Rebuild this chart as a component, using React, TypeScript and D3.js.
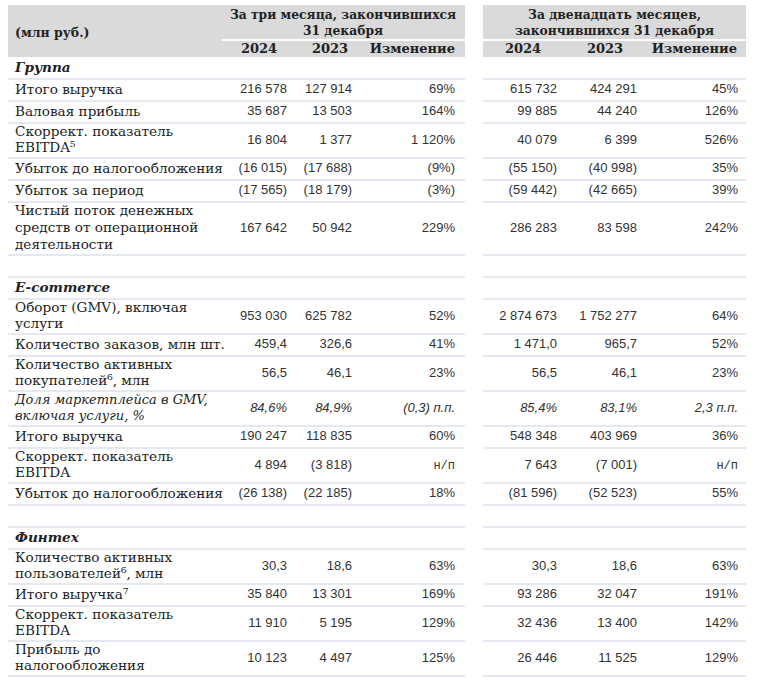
import React from "react";
import * as d3 from "d3";

// ---------- DATA ----------
const rowLabels: string[] = [
  "Группа",
  "Итого выручка",
  "Валовая прибыль",
  "Скоррект. показатель|EBITDA⁵",
  "Убыток до налогообложения",
  "Убыток за период",
  "Чистый поток денежных|средств от операционной|деятельности",
  "",
  "E-commerce",
  "Оборот (GMV), включая|услуги",
  "Количество заказов, млн шт.",
  "Количество активных|покупателей⁶, млн",
  "Доля маркетплейса в GMV,|включая услуги, %",
  "Итого выручка",
  "Скоррект. показатель|EBITDA",
  "Убыток до налогообложения",
  "",
  "Финтех",
  "Количество активных|пользователей⁶, млн",
  "Итого выручка⁷",
  "Скоррект. показатель|EBITDA",
  "Прибыль до|налогообложения",
];

// row kind: s = section heading, n = normal, i = italic, b = blank
const rowKinds: string[] = [
  "s", "n", "n", "n", "n", "n", "n", "b",
  "s", "n", "n", "n", "i", "n", "n", "n", "b",
  "s", "n", "n", "n", "n",
];

const q4_2024: string[] = [
  "", "216 578", "35 687", "16 804", "(16 015)", "(17 565)", "167 642", "",
  "", "953 030", "459,4", "56,5", "84,6%", "190 247", "4 894", "(26 138)", "",
  "", "30,3", "35 840", "11 910", "10 123",
];
const q4_2023: string[] = [
  "", "127 914", "13 503", "1 377", "(17 688)", "(18 179)", "50 942", "",
  "", "625 782", "326,6", "46,1", "84,9%", "118 835", "(3 818)", "(22 185)", "",
  "", "18,6", "13 301", "5 195", "4 497",
];
const q4_change: string[] = [
  "", "69%", "164%", "1 120%", "(9%)", "(3%)", "229%", "",
  "", "52%", "41%", "23%", "(0,3) п.п.", "60%", "н/п", "18%", "",
  "", "63%", "169%", "129%", "125%",
];
const fy_2024: string[] = [
  "", "615 732", "99 885", "40 079", "(55 150)", "(59 442)", "286 283", "",
  "", "2 874 673", "1 471,0", "56,5", "85,4%", "548 348", "7 643", "(81 596)", "",
  "", "30,3", "93 286", "32 436", "26 446",
];
const fy_2023: string[] = [
  "", "424 291", "44 240", "6 399", "(40 998)", "(42 665)", "83 598", "",
  "", "1 752 277", "965,7", "46,1", "83,1%", "403 969", "(7 001)", "(52 523)", "",
  "", "18,6", "32 047", "13 400", "11 525",
];
const fy_change: string[] = [
  "", "45%", "126%", "526%", "35%", "39%", "242%", "",
  "", "64%", "52%", "23%", "2,3 п.п.", "36%", "н/п", "55%", "",
  "", "63%", "191%", "142%", "129%",
];

const unitLabel = "(млн руб.)";
const periodTitles: string[][] = [
  ["За три месяца, закончившихся", "31 декабря"],
  ["За двенадцать месяцев,", "закончившихся 31 декабря"],
];
const columnHeaders: string[] = ["2024", "2023", "Изменение", "2024", "2023", "Изменение"];

// ---------- LAYOUT ----------
const W = 758;
const H = 680;
const SERIF = "'DejaVu Serif', serif";
const SANS = "'Liberation Sans', Arial, sans-serif";
const MONO = "'Liberation Mono', monospace";
const GRID = "#c9d1e2";
const HEADER_BG = "#dadada";

const blocks = [
  { x0: 8, x1: 465, sepX: 222 },
  { x0: 483, x1: 746, sepX: 483 },
];
const headerTop = 5;
const headerBottom = 57;
const labelX = 15;

const colKeys = ["q24", "q23", "qch", "f24", "f23", "fch"];
const colRight = d3.scaleOrdinal<string, number>().domain(colKeys).range([287, 352, 455, 557, 637, 738]);
const headAnchor = d3
  .scaleOrdinal<string, number>()
  .domain(colKeys)
  .range([259, 330, 455, 523, 605, 737]);
const headIsEnd = (k: string) => k === "qch" || k === "fch";
const colData: Record<string, string[]> = {
  q24: q4_2024,
  q23: q4_2023,
  qch: q4_change,
  f24: fy_2024,
  f23: fy_2023,
  fch: fy_change,
};

const heightForLines = d3.scaleOrdinal<number, number>().domain([1, 2, 3]).range([22, 35, 53]);

export default function App() {
  const lines = rowLabels.map((l) => (l === "" ? 1 : l.split("|").length));
  const heights = lines.map((n) => heightForLines(n));
  const bottoms = Array.from(d3.cumsum(heights)).map((v) => v + headerBottom);
  const tops = bottoms.map((b, i) => b - heights[i]);
  const yRow = d3.scaleOrdinal<number, number>().domain(d3.range(rowLabels.length)).range(tops);

  return (
    <svg
      width={W}
      height={H}
      style={{ position: "absolute", left: 0, top: 0, background: "#fff" }}
    >
      <rect x={0} y={0} width={W} height={H} fill="#fff" />
      {/* header backgrounds */}
      {blocks.map((b, i) => (
        <g key={"hb" + i}>
          <rect x={b.x0} y={headerTop} width={b.x1 - b.x0} height={headerBottom - headerTop} fill={HEADER_BG} />
          <line x1={b.sepX} x2={b.x1} y1={40} y2={40} stroke="#fff" strokeWidth={2} />
        </g>
      ))}
      <text x={labelX} y={33} fontFamily={SERIF} fontWeight="bold" fontSize={12.5} fill="#222" dominantBaseline="middle">
        {unitLabel}
      </text>
      {periodTitles.map((t, i) => {
        const cx = i === 0 ? 343 : (blocks[1].x0 + blocks[1].x1) / 2;
        return t.map((s, j) => (
          <text
            key={"pt" + i + j}
            x={cx}
            y={15 + j * 16.5}
            textAnchor="middle"
            dominantBaseline="middle"
            fontFamily={SERIF}
            fontWeight="bold"
            fontSize={12.3}
            fill="#222"
          >
            {s}
          </text>
        ));
      })}
      {colKeys.map((k, i) => (
        <text
          key={"ch" + k}
          x={headAnchor(k)}
          y={49.5}
          textAnchor={headIsEnd(k) ? "end" : "middle"}
          dominantBaseline="middle"
          fontFamily={SERIF}
          fontWeight="bold"
          fontSize={13}
          fill="#222"
        >
          {columnHeaders[i]}
        </text>
      ))}

      {/* rows */}
      {rowLabels.map((label, i) => {
        const top = yRow(i);
        const h = heights[i];
        const mid = top + h / 2;
        const kind = rowKinds[i];
        const parts = label === "" ? [] : label.split("|");
        const lh = parts.length === 3 ? 17 : 16;
        const italic = kind === "i" || kind === "s";
        return (
          <g key={"r" + i}>
            {blocks.map((b, bi) => (
              <line key={"gl" + bi} x1={b.x0} x2={b.x1} y1={top + h} y2={top + h} stroke={GRID} strokeWidth={1.2} />
            ))}
            {parts.map((p, j) => (
              <text
                key={"l" + j}
                x={labelX}
                y={mid + (j - (parts.length - 1) / 2) * lh}
                dominantBaseline="middle"
                fontFamily={SERIF}
                fontSize={kind === "i" ? 13 : 13.6}
                fontStyle={italic ? "italic" : "normal"}
                fontWeight={kind === "s" ? "bold" : "normal"}
                fill="#222"
              >
                {p}
              </text>
            ))}
            {colKeys.map((k) => {
              const v = colData[k][i];
              if (!v) return null;
              const mono = v === "н/п";
              return (
                <text
                  key={k}
                  x={colRight(k)}
                  y={mid}
                  textAnchor="end"
                  dominantBaseline="middle"
                  fontFamily={mono ? MONO : SANS}
                  fontSize={mono ? 12 : 13}
                  fontStyle={kind === "i" ? "italic" : "normal"}
                  fill="#333"
                >
                  {v}
                </text>
              );
            })}
          </g>
        );
      })}
    </svg>
  );
}
